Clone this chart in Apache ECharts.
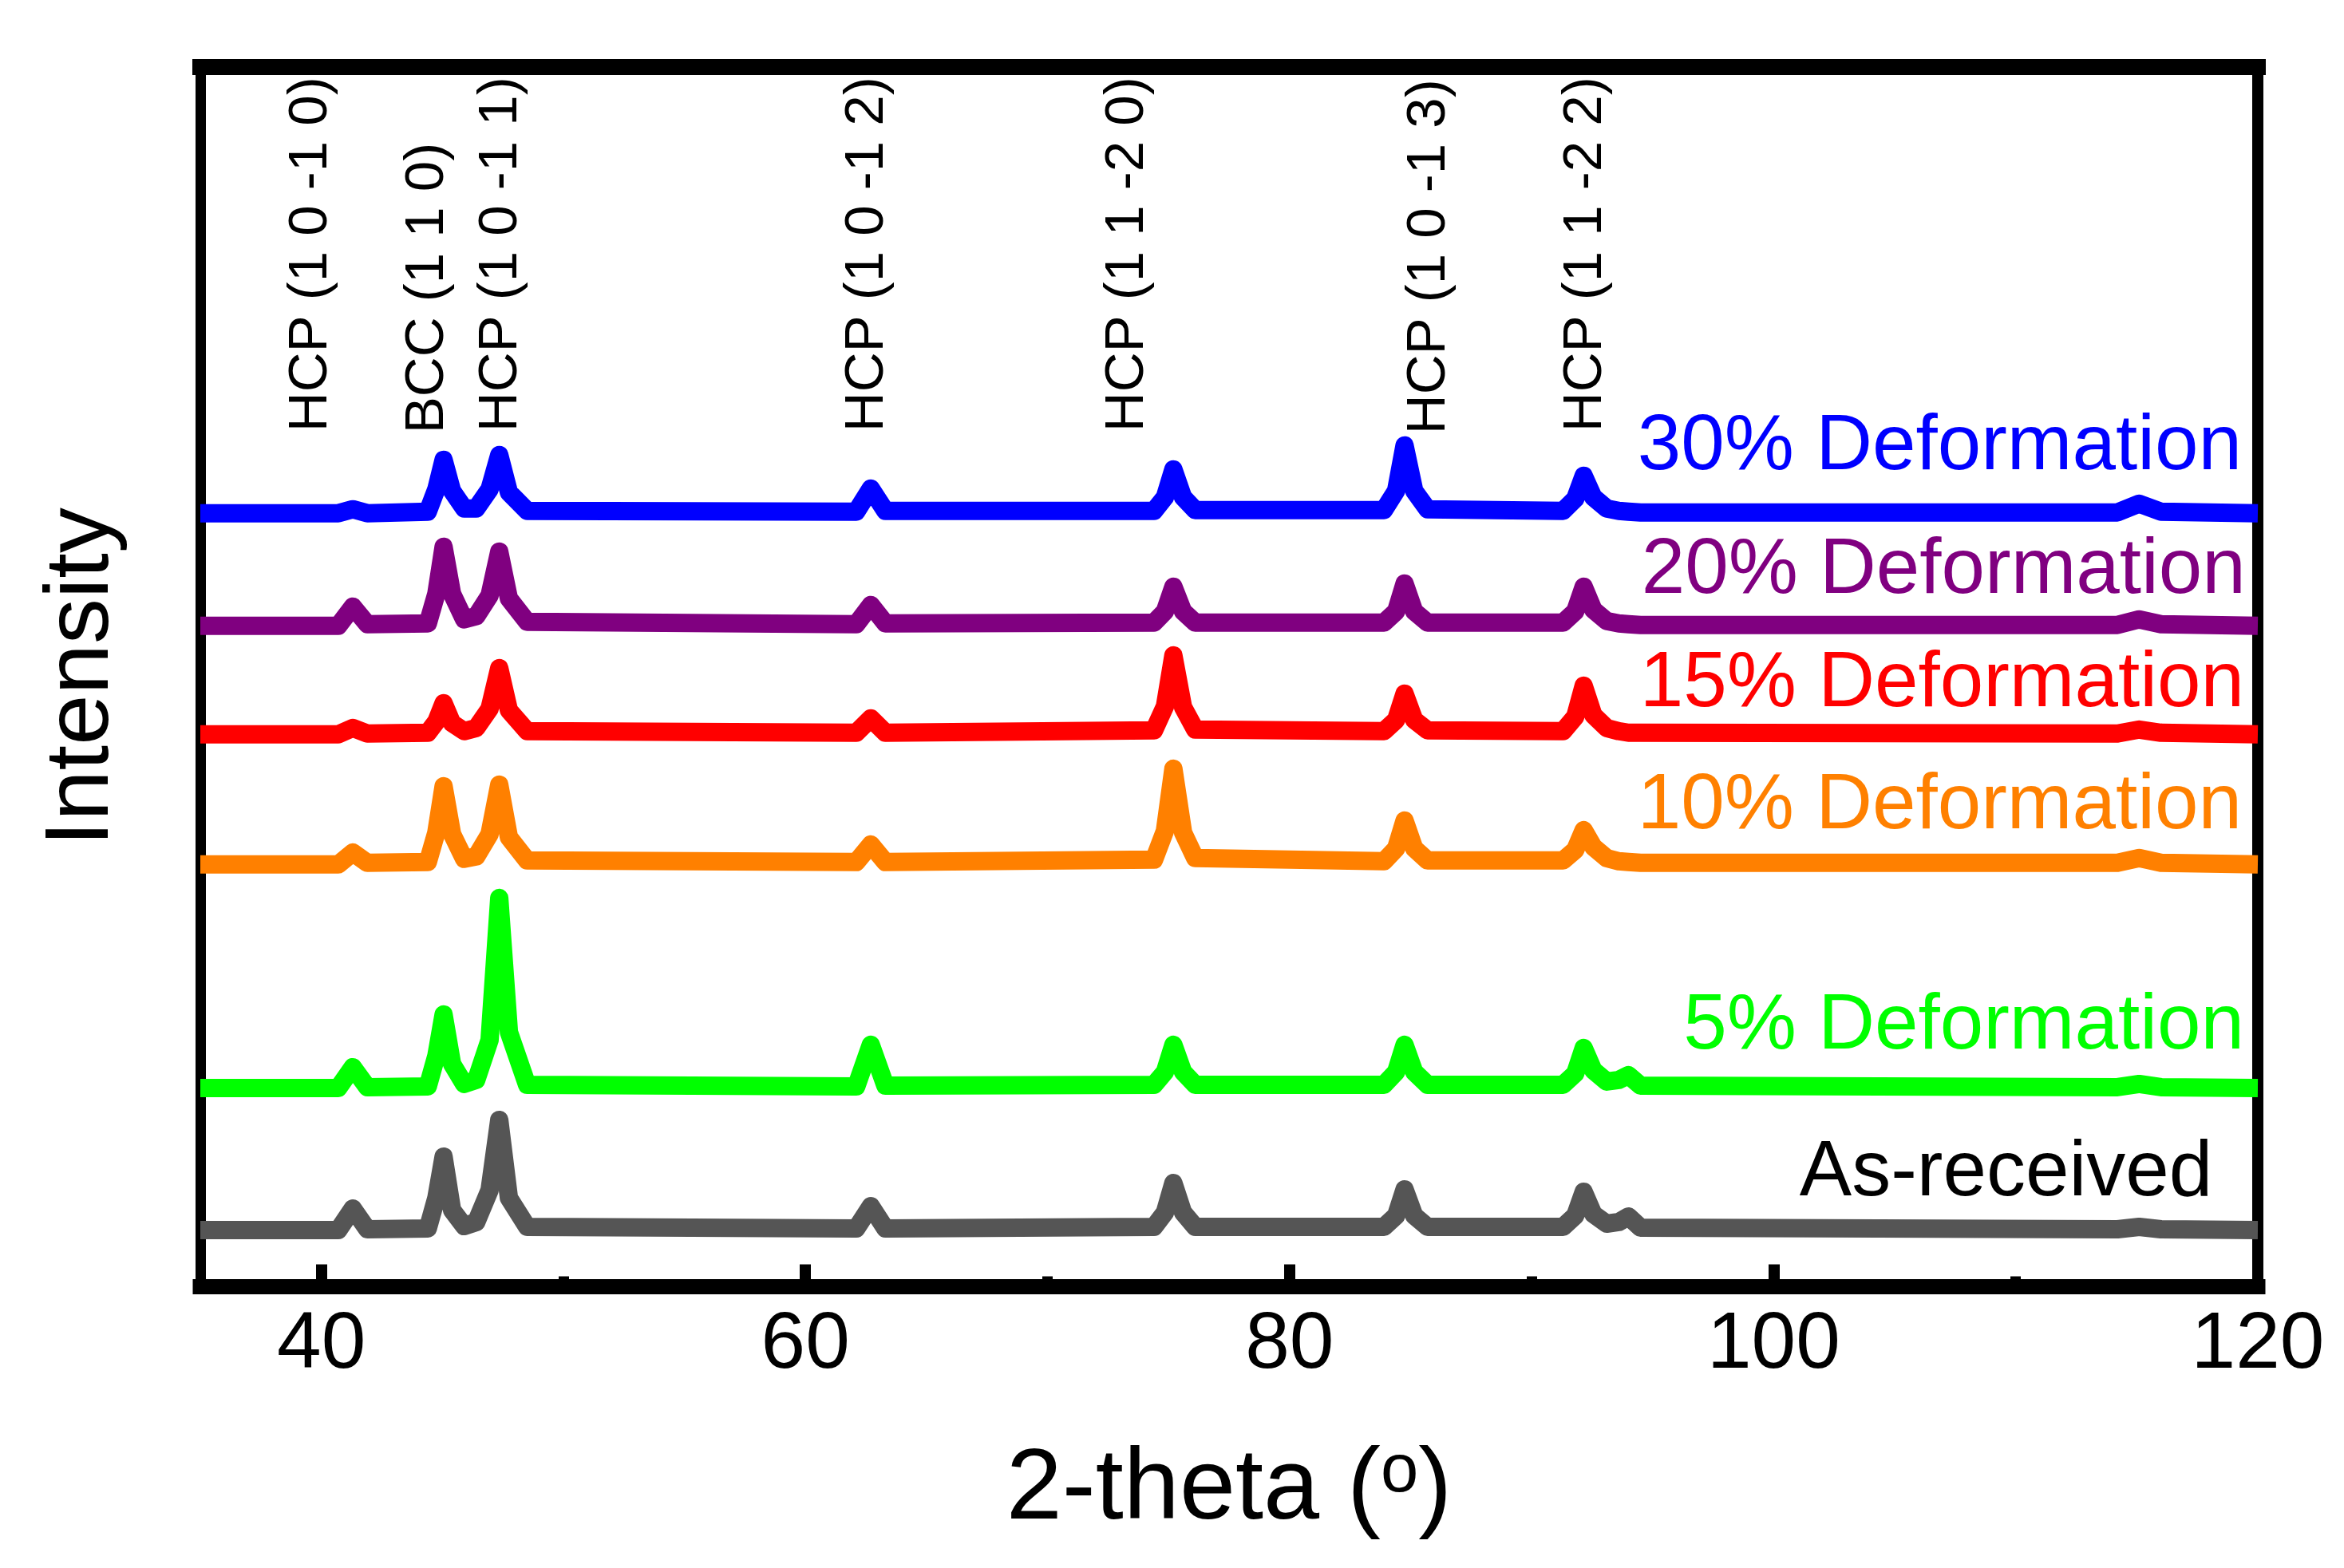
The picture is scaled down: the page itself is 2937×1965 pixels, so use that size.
<!DOCTYPE html>
<html>
<head>
<meta charset="utf-8">
<script src="https://cdn.jsdelivr.net/npm/echarts@6/dist/echarts.min.js"></script>
<style>
html,body{margin:0;padding:0;background:#fff;}
#chart{width:2937px;height:1965px;}
</style>
</head>
<body>
<div id="chart"></div>
<script>
// ---- data ----
const twoTheta = [35, 40.7, 41.3, 41.9, 44.4, 44.75, 45.05, 45.4, 45.9, 46.4, 46.95, 47.35, 47.75, 48.5, 62.1, 62.7, 63.3, 74.4, 74.85, 75.2, 75.6, 76.1, 83.9, 84.4, 84.75, 85.15, 85.7, 91.3, 91.8, 92.15, 92.55, 93.1, 93.6, 94.0, 94.5, 114.2, 115.1, 116.0, 120];

const seriesNames = ['30% Deformation', '20% Deformation', '15% Deformation', '10% Deformation', '5% Deformation', 'As-received'];
const seriesOffsets = [969, 828, 692, 529, 249, 71];

const intensity30 = [0,0,5,0, 2,30,67,28,6, 6,30,73,26,3, 2,31,3, 3,20,55,20,4, 4,28,85,28,5, 3,18,47,20,6,3,2,1, 1,12,2,0];
const intensity20 = [0,0,24,2, 3,40,99,40,8, 12,38,93,34,5, 2,26,3, 4,18,49,18,4, 4,18,53,18,4, 4,18,49,20,6,3,2,1, 1,8,2,0];
const intensity15 = [0,0,8,1, 2,16,39,14,4, 8,32,83,30,4, 2,20,2, 5,35,99,34,6, 4,18,51,18,5, 4,22,61,24,8,4,2,2, 1,6,2,0];
const intensity10 = [0,0,15,2, 3,40,98,38,7, 10,38,100,34,5, 3,25,3, 6,42,120,40,8, 4,20,55,20,5, 5,18,43,22,8,4,3,2, 2,8,2,0];
const intensity5  = [0,0,26,1, 2,40,92,30,5, 10,60,238,70,4, 2,54,3, 4,20,54,20,4, 4,20,54,20,4, 4,18,50,22,8,10,16,3, 1,5,1,0];
const intensityAR = [0,0,27,1, 2,40,92,25,5, 10,50,138,40,4, 2,30,2, 4,22,59,22,4, 4,18,51,18,4, 4,18,48,20,8,10,17,3, 1,4,1,0];

const seriesColors = ['#0000ff', '#800080', '#ff0000', '#ff8000', '#00ff00', '#555555'];
const seriesLabelColors = ['#0000ff', '#800080', '#ff0000', '#ff8000', '#00ff00', '#000000'];
const seriesLabelX = [119.34, 119.5, 119.44, 119.34, 119.44, 118.13];
const seriesLabelY = [1051, 896, 754, 601, 325, 141];

const peakLabels = ['HCP (1 0 -1 0)', 'BCC (1 1 0)', 'HCP (1 0 -1 1)', 'HCP (1 0 -1 2)', 'HCP (1 1 -2 0)', 'HCP (1 0 -1 3)', 'HCP (1 1 -2 2)'];
const peakLabelX = [39.57, 44.41, 47.43, 62.55, 73.31, 85.79, 92.24];
const peakLabelY = [1071, 1069, 1071, 1071, 1071, 1068, 1071];

const majorTicks = [40, 60, 80, 100, 120];
const minorTicks = [50, 70, 90, 110];

// ---- chart ----
const FONT = 'Liberation Sans, Arial, Helvetica, sans-serif';
const allIntensities = [intensity30, intensity20, intensity15, intensity10, intensity5, intensityAR];

const lineSeries = allIntensities.map((arr, k) => ({
  name: seriesNames[k],
  type: 'line',
  showSymbol: false,
  symbol: 'none',
  smooth: false,
  clip: true,
  z: 2,
  lineStyle: { color: seriesColors[k], width: 23, join: 'round', cap: 'butt' },
  data: twoTheta.map((x, i) => [x, seriesOffsets[k] + arr[i]])
}));

const seriesLabelSeries = {
  type: 'scatter',
  symbolSize: 1,
  itemStyle: { color: 'rgba(0,0,0,0)', opacity: 1 },
  z: 5,
  silent: true,
  data: seriesNames.map((n, i) => ({
    value: [seriesLabelX[i], seriesLabelY[i]],
    label: {
      show: true,
      formatter: n,
      position: 'inside',
      align: 'right',
      verticalAlign: 'middle',
      color: seriesLabelColors[i],
      opacity: 1,
      fontSize: 98,
      fontFamily: FONT
    }
  }))
};

const peakLabelSeries = {
  type: 'scatter',
  symbolSize: 1,
  itemStyle: { color: 'rgba(0,0,0,0)', opacity: 1 },
  z: 5,
  silent: true,
  data: peakLabels.map((t, i) => ({
    value: [peakLabelX[i], peakLabelY[i]],
    label: {
      show: true,
      formatter: t,
      position: 'inside',
      rotate: 90,
      align: 'left',
      verticalAlign: 'middle',
      color: '#000',
      opacity: 1,
      fontSize: 69,
      fontFamily: FONT
    }
  }))
};

const chart = echarts.init(document.getElementById('chart'), null, { renderer: 'canvas' });
chart.setOption({
  animation: false,
  backgroundColor: '#ffffff',
  grid: { left: 251, right: 108, top: 84, bottom: 352.5, containLabel: false },
  xAxis: [
    {
      type: 'value', position: 'bottom', min: 35, max: 120,
      axisLine: { show: true, onZero: false, lineStyle: { color: '#000', width: 19, cap: 'square' } },
      axisTick: { show: true, inside: true, length: 28, customValues: majorTicks, lineStyle: { color: '#000', width: 14 } },
      axisLabel: { show: true, customValues: majorTicks, fontSize: 100, margin: 24, color: '#000', fontFamily: FONT },
      splitLine: { show: false },
      name: '2-theta ({s|o})',
      nameLocation: 'middle',
      nameGap: 191,
      nameTextStyle: {
        fontSize: 126, lineHeight: 130, color: '#000', fontFamily: FONT,
        rich: { s: { fontSize: 85, lineHeight: 105, verticalAlign: 'top', color: '#000', fontFamily: FONT } }
      }
    },
    {
      type: 'value', position: 'bottom', min: 35, max: 120,
      axisLine: { show: false, onZero: false },
      axisTick: { show: true, inside: true, length: 13, customValues: minorTicks, lineStyle: { color: '#000', width: 13 } },
      axisLabel: { show: false },
      splitLine: { show: false }
    },
    {
      type: 'value', position: 'top', min: 35, max: 120,
      axisLine: { show: true, onZero: false, lineStyle: { color: '#000', width: 20, cap: 'square' } },
      axisTick: { show: false },
      axisLabel: { show: false },
      splitLine: { show: false }
    }
  ],
  yAxis: [
    {
      type: 'value', position: 'left', min: 0, max: 1528,
      axisLine: { show: true, onZero: false, lineStyle: { color: '#000', width: 13, cap: 'square' } },
      axisTick: { show: false },
      axisLabel: { show: false },
      splitLine: { show: false },
      name: 'Intensity',
      nameLocation: 'middle',
      nameGap: 90,
      nameTextStyle: { fontSize: 114, lineHeight: 114, color: '#000', fontFamily: FONT }
    },
    {
      type: 'value', position: 'right', min: 0, max: 1528,
      axisLine: { show: true, onZero: false, lineStyle: { color: '#000', width: 14, cap: 'square' } },
      axisTick: { show: false },
      axisLabel: { show: false },
      splitLine: { show: false }
    }
  ],
  series: lineSeries.concat([seriesLabelSeries, peakLabelSeries])
});
</script>
</body>
</html>
